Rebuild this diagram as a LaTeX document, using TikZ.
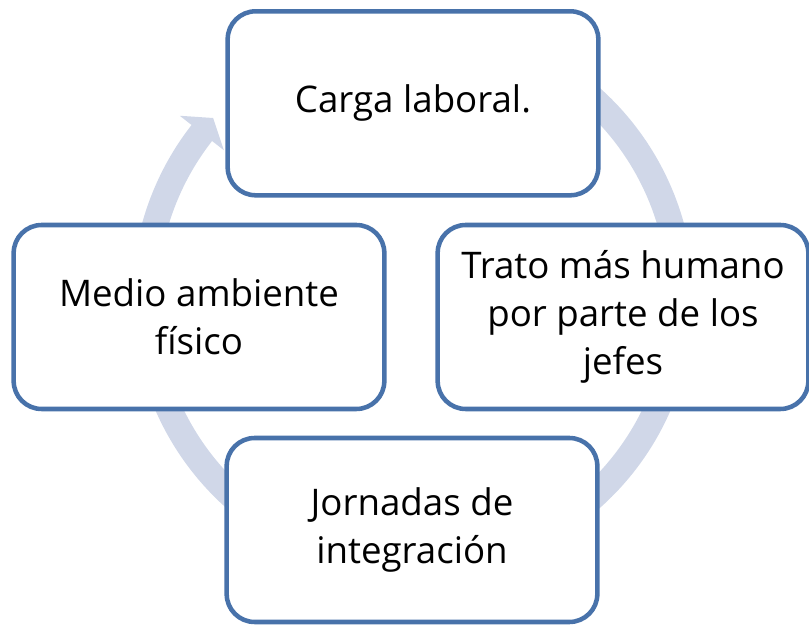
\documentclass[tikz,border=0pt]{standalone}
\usepackage{fontspec}
\setmainfont{Open Sans}
\usetikzlibrary{calc}
\definecolor{boxc}{RGB}{72,114,170}
\definecolor{ringc}{RGB}{208,215,232}
\begin{document}
\begin{tikzpicture}[x=0.75pt,y=0.75pt,
  box/.style={draw=boxc, line width=3.4pt, fill=white, rounded corners=21pt,
    minimum width=278pt, minimum height=138pt, inner sep=0pt,
    align=center, font=\fontsize{27.5}{36}\selectfont, text=black}]
\useasboundingbox (0,0) rectangle (809,624);
% circular arrow
\coordinate (c) at (413,326);
\fill[ringc] ($(c)+(70:281)$) arc[start angle=70, end angle=-218, radius=281]
  -- ($(c)+(-218:296)$) -- ($(c)+(-222:269)$) -- ($(c)+(-218:240)$)
  -- ($(c)+(-218:255)$) arc[start angle=-218, end angle=70, radius=255] -- cycle;
\node[box] (top) at (413,520.7) {Carga laboral.};
\node[box] (right) at (623,307) {Trato más humano\\por parte de los\\jefes};
\node[box] (bottom) at (412,94) {Jornadas de\\integración};
\node[box] (left) at (199,307) {Medio ambiente\\físico};
\end{tikzpicture}
\end{document}
